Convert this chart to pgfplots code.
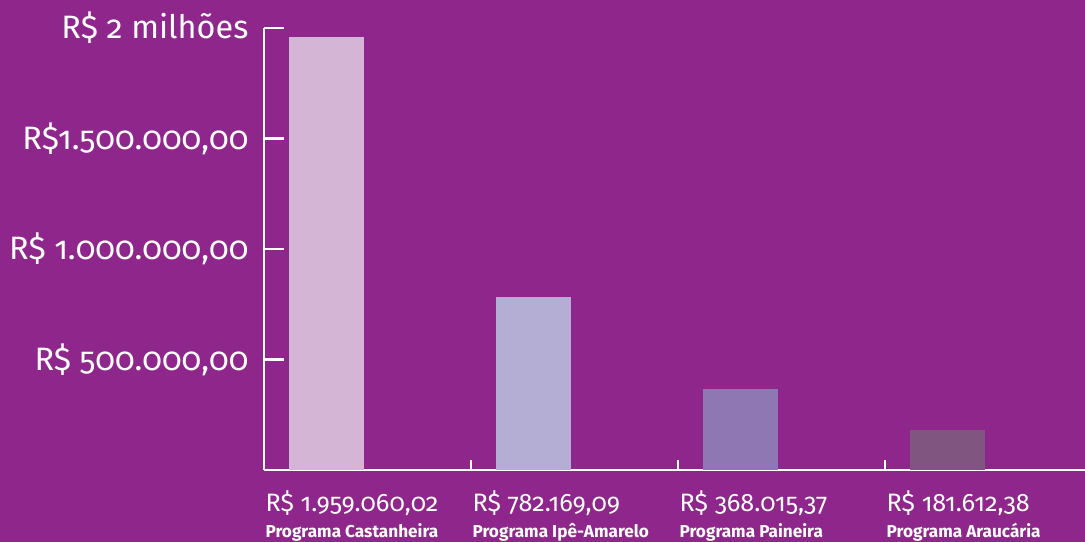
\documentclass[border=0pt]{standalone}
\usepackage{pgfplots}
\pgfplotsset{compat=1.18}
\usepackage{fontspec}
\setmainfont{Fira Sans}[Numbers=OldStyle]
\definecolor{bg}{HTML}{8F268C}
\definecolor{cA}{HTML}{D4B5D6}
\definecolor{cB}{HTML}{B4AED5}
\definecolor{cC}{HTML}{8F77B4}
\definecolor{cD}{HTML}{80557F}
\begin{document}
\begin{tikzpicture}
\path[use as bounding box] (0pt,0pt) rectangle (813.75pt,406.5pt);
\fill[bg] (0pt,0pt) rectangle (813.75pt,406.5pt);
\begin{axis}[
  at={(198pt,54pt)}, anchor=south west,
  scale only axis, width=615.75pt, height=331.5pt,
  xmin=0, xmax=3.966, ymin=0, ymax=2000000,
  scaled y ticks=false,
  axis x line=bottom, axis y line=left,
  axis line style={white, line width=2pt, -},
  clip=false,
  ytick={500000,1000000,1500000,2000000},
  yticklabels={{R\$ 500.000,00},{R\$ 1.000.000,00},{R\$1.500.000,00},{R\$ 2 milhões}},
  tick align=inside, major tick length=15pt,
  ytick style={white, line width=2pt},
  yticklabel style={anchor=east, inner sep=0pt, xshift=-11.5pt, text=white, font=\fontsize{24.3}{28}\selectfont},
  xtick={0,1,2,3},
  xtick style={draw=none},
  xticklabels={
    {R\$ 1.959.060,02\\[-1.5pt]{\fontsize{12.9}{14}\selectfont\bfseries Programa Castanheira}},
    {R\$ 782.169,09\\[-1.5pt]{\fontsize{12.9}{14}\selectfont\bfseries Programa Ipê-Amarelo}},
    {R\$ 368.015,37\\[-1.5pt]{\fontsize{12.9}{14}\selectfont\bfseries Programa Paineira}},
    {R\$ 181.612,38\\[-1.5pt]{\fontsize{12.9}{14}\selectfont\bfseries Programa Araucária}}},
  xticklabel style={anchor=north west, align=left, inner sep=0pt, yshift=-15pt, xshift=1pt, text=white, font=\fontsize{18.9}{21}\selectfont},
]
\addplot[ybar, bar width=56.25pt, bar shift=0pt, fill=cA, draw=none] coordinates {(0.302,1959060.02)};
\addplot[ybar, bar width=56.25pt, bar shift=0pt, fill=cB, draw=none] coordinates {(1.302,782169.09)};
\addplot[ybar, bar width=56.25pt, bar shift=0pt, fill=cC, draw=none] coordinates {(2.302,368015.37)};
\addplot[ybar, bar width=56.25pt, bar shift=0pt, fill=cD, draw=none] coordinates {(3.302,181612.38)};
\draw[white, line width=2pt] (axis cs:1,0) -- ([yshift=7.5pt]axis cs:1,0);
\draw[white, line width=2pt] (axis cs:2,0) -- ([yshift=7.5pt]axis cs:2,0);
\draw[white, line width=2pt] (axis cs:3,0) -- ([yshift=7.5pt]axis cs:3,0);
\end{axis}
\end{tikzpicture}
\end{document}
